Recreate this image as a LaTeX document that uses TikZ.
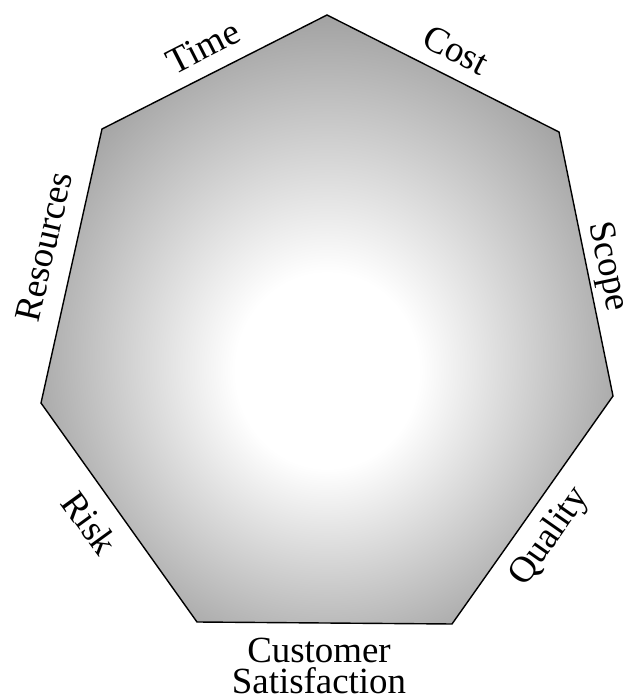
\documentclass[tikz,border=0pt]{standalone}
\usepackage{fontspec}
\setmainfont{Liberation Serif}
\usetikzlibrary{positioning}
\pgfdeclareradialshading{glow}{\pgfpoint{0bp}{-5bp}}{color(0bp)=(white); color(8bp)=(white); color(27bp)=(black!36); color(50bp)=(black!40)}

\begin{document}
\begin{tikzpicture}[x=0.02cm, y=0.02cm,
    lbl/.style={font=\fontsize{21}{18}\selectfont, inner sep=0pt, align=center}]
  \useasboundingbox (0,0) rectangle (625,700);

  \coordinate (top) at (327,685);
  \coordinate (ur)  at (559,568);
  \coordinate (rt)  at (613,304);
  \coordinate (br)  at (452,76);
  \coordinate (bl)  at (197,78);
  \coordinate (lt)  at (41,297);
  \coordinate (ul)  at (102,571);

  \draw[line width=0.8pt, shading=glow] (top) -- (ur) -- (rt) -- (br) -- (bl) -- (lt) -- (ul) -- cycle;

  \node[lbl, rotate=27]  (tm)  at (203,653) {Time};
  \node[lbl, rotate=-27] (cst) at (456,650) {Cost};
  \node[lbl, rotate=77]  (res) at (44,453)  {Resources};
  \node[lbl, rotate=-78] (scp) at (607,433) {Scope};
  \node[lbl, rotate=-54] (rsk) at (90,177)  {Risk};
  \node[lbl, rotate=55]  (qty) at (550,163) {Quality};
  \node[lbl]             (cs)  at (319,34)  {Customer\\Satisfaction};
\end{tikzpicture}
\end{document}
